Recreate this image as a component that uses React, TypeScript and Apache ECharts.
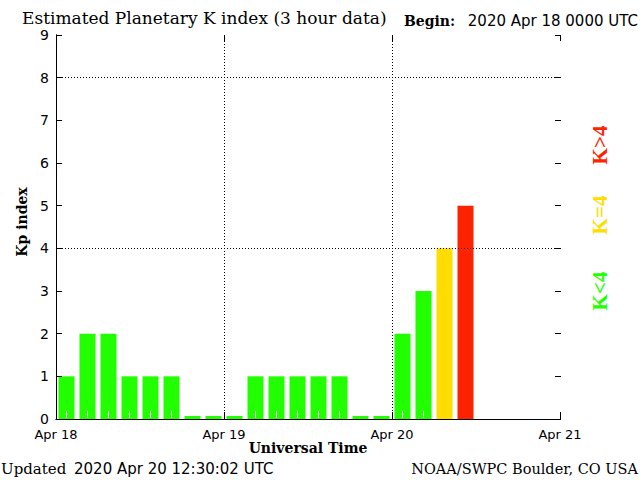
import React, { useEffect, useRef } from 'react';
import * as echarts from 'echarts';

const dayLabels = ['Apr 18', 'Apr 19', 'Apr 20', 'Apr 21'];
const kpValues = [1, 2, 2, 1, 1, 1, 0, 0, 0, 1, 1, 1, 1, 1, 0, 0, 2, 3, 4, 5];
const yTickValues = [0, 1, 2, 3, 4, 5, 6, 7, 8, 9];
const hoursPerBin = 3;
const titleText = 'Estimated Planetary K index (3 hour data)';
const beginLabel = 'Begin:';
const beginValue = '2020 Apr 18 0000 UTC';
const updatedLabel = 'Updated';
const updatedValue = '2020 Apr 20 12:30:02 UTC';
const creditText = 'NOAA/SWPC Boulder, CO USA';
const legendTexts = ['K<4', 'K=4', 'K>4'];

const GREEN = '#22ff00';
const YELLOW = '#ffdd00';
const RED = '#ff2200';
const SERIF = 'DejaVu Serif';
const SANS = 'DejaVu Sans';
const MARK = '#ffffff';
const TICK = '#000000';

function colorFor(v: number) {
  if (v < 4) return GREEN;
  if (v === 4) return YELLOW;
  return RED;
}

export default function App() {
  const ref = useRef<HTMLDivElement>(null);
  useEffect(() => {
    const chart = echarts.init(ref.current, null, { renderer: 'svg' });
    const dotted = [1, 2];
    const ySplitColors = yTickValues.map((v) => (v === 4 || v === 8 ? '#000' : 'transparent'));
    const xSplitColors = dayLabels.map((_, i) => (i === 0 || i === dayLabels.length - 1 ? 'transparent' : '#000'));
    const xMax = (dayLabels.length - 1) * 24;
    const yMax = yTickValues[yTickValues.length - 1];
    const dayHours = dayLabels.map((_, i) => i * 24);
    const px = (n: number) => Math.round(n) + 0.5;
    const lineEl = (x1: number, y1: number, x2: number, y2: number, stroke: string) => ({
      type: 'line', shape: { x1, y1, x2, y2 }, style: { stroke, lineWidth: 1 },
    });
    const plainAxis = (position: string, showLabel: boolean) => ({
      position, z: 3,
      axisLine: { show: true, lineStyle: { color: '#000', width: 1 } },
      axisTick: { show: false },
      axisLabel: { show: showLabel },
      splitLine: { show: false },
    });
    chart.setOption({
      animation: false,
      backgroundColor: '#fff',
      grid: { left: 56, right: 80, top: 35, bottom: 61, containLabel: false },
      xAxis: [
        {
          ...plainAxis('bottom', true),
          type: 'value', min: 0, max: xMax, interval: 24,
          axisLabel: {
            formatter: (v: number) => dayLabels[Math.round(v / 24)] ?? '',
            color: '#000', fontFamily: SANS, fontSize: 13, margin: 9,
          },
          splitLine: { show: true, lineStyle: { color: xSplitColors, type: dotted, width: 1 } },
        },
        { ...plainAxis('top', false), type: 'value', min: 0, max: xMax, interval: 24 },
      ],
      yAxis: [
        {
          ...plainAxis('left', true),
          type: 'value', min: 0, max: yMax, interval: 1,
          axisLabel: { color: '#000', fontFamily: SANS, fontSize: 14, margin: 7 },
          splitLine: { show: true, lineStyle: { color: ySplitColors, type: dotted, width: 1 } },
        },
        { ...plainAxis('right', false), type: 'value', min: 0, max: yMax, interval: 1 },
      ],
      series: [
        {
          type: 'bar', xAxisIndex: 0, yAxisIndex: 0, barWidth: 16, barMinHeight: 3, z: 2,
          data: kpValues.map((v, i) => ({
            value: [i * hoursPerBin + hoursPerBin / 2, v],
            itemStyle: { color: colorFor(v) },
          })),
          silent: true,
        },
        {
          type: 'custom', xAxisIndex: 0, yAxisIndex: 0, z: 5, clip: false, silent: true,
          data: kpValues
            .map((v, i) => ({ v, i }))
            .filter((d) => d.v > 0 && d.v < 4)
            .map((d) => [d.i * hoursPerBin + hoursPerBin / 2, 0]),
          renderItem: (_p: any, api: any) => {
            const c = api.coord([api.value(0), api.value(1)]);
            const x = px(c[0] - 0.5);
            return lineEl(x, c[1] - 1, x, c[1] - 8, MARK);
          },
        },
        {
          type: 'custom', xAxisIndex: 0, yAxisIndex: 0, z: 6, clip: false, silent: true,
          data: yTickValues.map((v) => [0, v]),
          renderItem: (_p: any, api: any) => {
            const l = api.coord([0, api.value(1)]);
            const r = api.coord([xMax, api.value(1)]);
            const y = px(l[1] - 0.5);
            return {
              type: 'group',
              children: [
                lineEl(Math.round(l[0]), y, Math.round(l[0]) + 6, y, TICK),
                lineEl(Math.round(r[0]) - 5, y, Math.round(r[0]) + 1, y, TICK),
              ],
            };
          },
        },
        {
          type: 'custom', xAxisIndex: 0, yAxisIndex: 0, z: 6, clip: false, silent: true,
          data: dayHours.map((h) => [h, 0]),
          renderItem: (_p: any, api: any) => {
            const b = api.coord([api.value(0), 0]);
            const t = api.coord([api.value(0), yMax]);
            const x = px(b[0] - 0.5);
            return {
              type: 'group',
              children: [
                lineEl(x, Math.round(b[1]), x, Math.round(b[1]) - 7, TICK),
                lineEl(x, Math.round(t[1]), x, Math.round(t[1]) + 6, TICK),
              ],
            };
          },
        },
      ],
      graphic: [
        { type: 'text', x: 22, y: 18, style: { text: titleText, font: `17px "${SERIF}"`, fill: '#000', textVerticalAlign: 'middle' } },
        { type: 'text', x: 404, y: 21, style: { text: beginLabel, font: `bold 14px "${SERIF}"`, fill: '#000', textVerticalAlign: 'middle' } },
        { type: 'text', x: 638, y: 21, style: { text: beginValue, font: `15px "${SANS}"`, fill: '#000', textAlign: 'right', textVerticalAlign: 'middle' } },
        { type: 'text', x: 308, y: 448, style: { text: 'Universal Time', font: `bold 14px "${SERIF}"`, fill: '#000', textAlign: 'center', textVerticalAlign: 'middle' } },
        { type: 'text', x: 22, y: 222, rotation: Math.PI / 2, style: { text: 'Kp index', font: `bold 14px "${SERIF}"`, fill: '#000', textAlign: 'center', textVerticalAlign: 'middle' } },
        { type: 'text', x: 1, y: 469, style: { text: updatedLabel, font: `15px "${SERIF}"`, fill: '#000', textVerticalAlign: 'middle' } },
        { type: 'text', x: 74, y: 469, style: { text: updatedValue, font: `15px "${SANS}"`, fill: '#000', textVerticalAlign: 'middle' } },
        { type: 'text', x: 638, y: 469, style: { text: creditText, font: `14.5px "${SERIF}"`, fill: '#000', textAlign: 'right', textVerticalAlign: 'middle' } },
        { type: 'text', x: 600, y: 291, rotation: Math.PI / 2, style: { text: legendTexts[0], font: `bold 21px "Liberation Serif"`, fill: GREEN, textAlign: 'center', textVerticalAlign: 'middle' } },
        { type: 'text', x: 600, y: 215, rotation: Math.PI / 2, style: { text: legendTexts[1], font: `bold 21px "Liberation Serif"`, fill: YELLOW, textAlign: 'center', textVerticalAlign: 'middle' } },
        { type: 'text', x: 600, y: 145, rotation: Math.PI / 2, style: { text: legendTexts[2], font: `bold 21px "Liberation Serif"`, fill: RED, textAlign: 'center', textVerticalAlign: 'middle' } },
      ],
    });
    return () => chart.dispose();
  }, []);
  return <div ref={ref} style={{ width: 640, height: 480, position: 'absolute', left: 0, top: 0 }} />;
}
